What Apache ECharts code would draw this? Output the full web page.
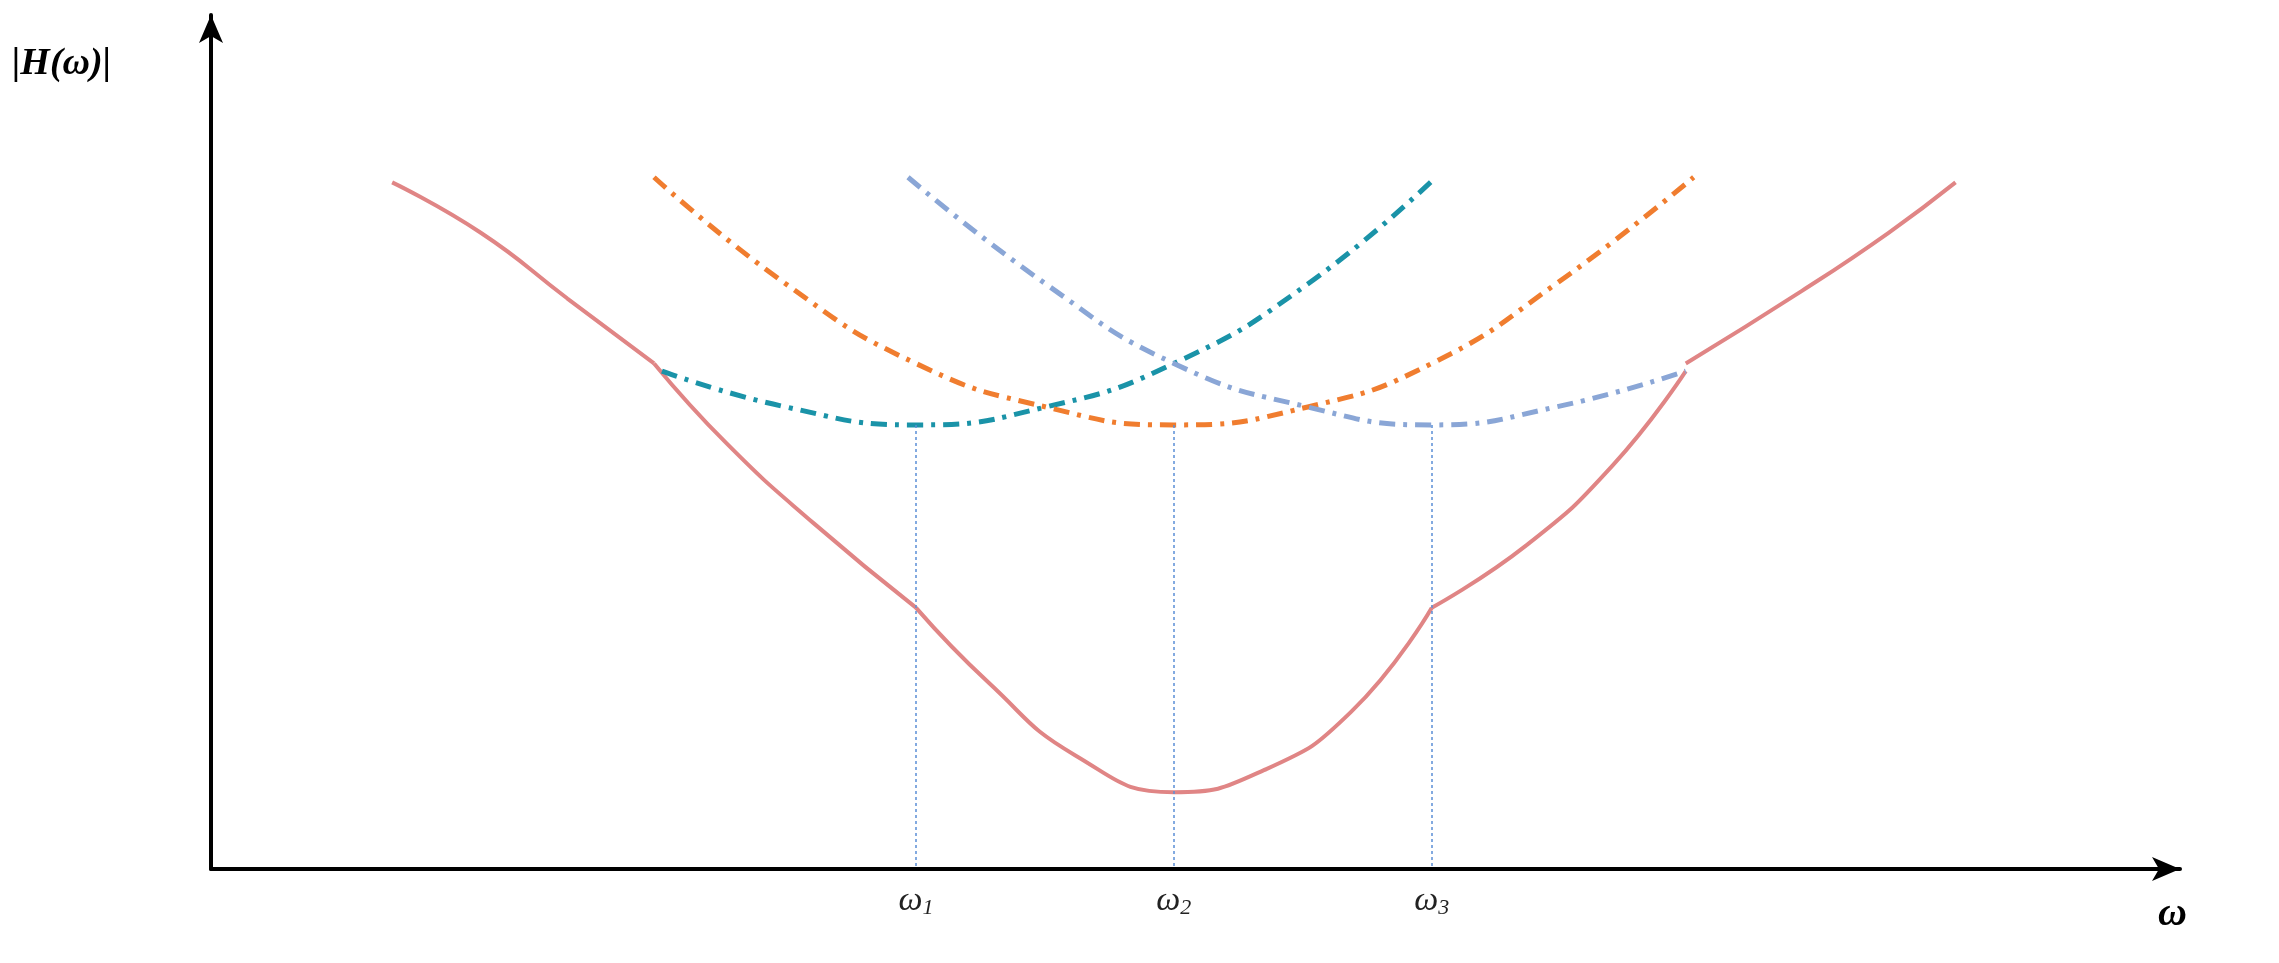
<!DOCTYPE html>
<html>
<head>
<meta charset="utf-8">
<script src="https://cdn.jsdelivr.net/npm/echarts@6/dist/echarts.min.js"></script>
<style>html,body{margin:0;padding:0;background:#fff}#chart{width:2279px;height:963px}</style>
</head>
<body>
<div id="chart"></div>
<script>
// 幅频响应示意图数据 (x: 频率, y: 幅值, 0-100)
// 总响应曲线, 在各拐点处分段
var totalSeg1 = [[9.2,80.4],[13.7,74.5],[18.1,66.8],[22.5,59.2]];
var totalSeg2 = [[22.5,59.2],[26.2,49.8],[30.6,40.5],[35.8,30.6]];
var totalSeg3 = [[35.8,30.6],[39.5,21.8],[43.9,13.3],[48.9,9.0],[53.5,11.6],[57.9,18.4],[62.0,30.6]];
var totalSeg4 = [[62.0,30.6],[66.8,37.9],[71.2,47.3],[74.9,58.3]];
var totalSeg5 = [[74.9,59.2],[80.8,67.7],[85.2,74.5],[88.6,80.4]];
var curve1 = [[22.9,58.3],[29.2,54.1],[35.8,52.0],[42.4,54.1],[48.9,59.2],[55.7,68.5],[62.2,81.0]];
var curve2 = [[22.5,81.0],[29.2,68.5],[35.8,59.2],[42.4,54.1],[48.9,52.0],[55.7,54.1],[62.0,59.2],[68.3,68.5],[75.3,81.0]];
var curve3 = [[35.4,81.0],[42.4,68.5],[48.9,59.2],[55.7,54.1],[62.0,52.0],[68.3,54.1],[74.9,58.3]];
var markX = [35.8, 48.9, 62.0];
var markTop = 52.0;
var markLabels = ['1', '2', '3'];

var serif = 'Liberation Serif';
var dashDot = [16, 8, 4, 8];
var red = '#e08585';

var myChart = echarts.init(document.getElementById('chart'));

function dashSeries(data, color){
    return {
        type: 'line', data: data, smooth: true, symbol: 'none',
        lineStyle: {color: color, width: 5, type: dashDot}
    };
}
function redSeries(data){
    return {
        type: 'line', data: data, smooth: true, symbol: 'none',
        lineStyle: {color: red, width: 4}
    };
}

var option = {
    animation: false,
    grid: {left: 211, top: 15, right: 99, bottom: 94},
    xAxis: {
        type: 'value', min: 0, max: 100,
        axisLine: {lineStyle: {color: '#000', width: 4}, symbol: ['none', 'arrow'], symbolSize: [18, 28]},
        axisTick: {show: false}, axisLabel: {show: false}, splitLine: {show: false}
    },
    yAxis: {
        type: 'value', min: 0, max: 100,
        axisLine: {show: true, lineStyle: {color: '#000', width: 4}, symbol: ['none', 'arrow'], symbolSize: [18, 28]},
        axisTick: {show: false}, axisLabel: {show: false}, splitLine: {show: false}
    },
    series: [
        {
            type: 'line', data: totalSeg1, smooth: true, symbol: 'none',
            lineStyle: {color: red, width: 4},
            markLine: {
                silent: true, symbol: 'none',
                lineStyle: {color: '#5b8fd6', width: 1.5, type: [3, 3]},
                label: {
                    position: 'end', distance: 14,
                    formatter: function(p){ return '{w|ω}{s|' + p.name + '}'; },
                    rich: {
                        w: {fontFamily: serif, fontStyle: 'italic', fontSize: 34, color: '#222'},
                        s: {fontFamily: serif, fontStyle: 'italic', fontSize: 22, color: '#222', padding: [14, 0, 0, 0]}
                    }
                },
                data: markX.map(function(x, i){
                    return [{coord: [x, markTop], name: markLabels[i]}, {coord: [x, 0]}];
                })
            }
        },
        redSeries(totalSeg2),
        redSeries(totalSeg3),
        redSeries(totalSeg4),
        redSeries(totalSeg5),
        dashSeries(curve1, '#1a93a8'),
        dashSeries(curve2, '#f07d2f'),
        dashSeries(curve3, '#8aa6d6')
    ],
    graphic: [
        {type: 'text', left: 12, top: 45, style: {text: '|H(ω)|', font: 'bold italic 38px "Liberation Serif"', fill: '#000'}},
        {type: 'text', left: 2158, top: 895, style: {text: 'ω', font: 'bold italic 40px "Liberation Serif"', fill: '#000'}}
    ]
};

myChart.setOption(option);
</script>
</body>
</html>
